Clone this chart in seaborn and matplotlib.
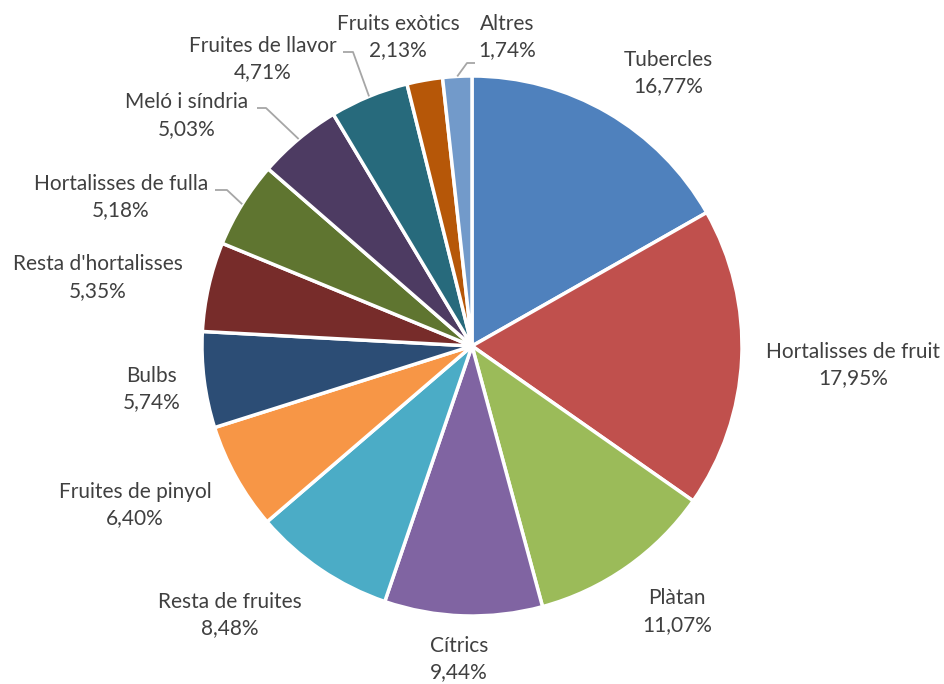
import numpy as np
import matplotlib
matplotlib.use("Agg")
import matplotlib.pyplot as plt
import seaborn as sns

categories = ["Tubercles", "Hortalisses de fruit", "Plàtan", "Cítrics", "Resta de fruites",
              "Fruites de pinyol", "Bulbs", "Resta d'hortalisses", "Hortalisses de fulla",
              "Meló i síndria", "Fruites de llavor", "Fruits exòtics", "Altres"]
values = [16.77, 17.95, 11.07, 9.44, 8.48, 6.40, 5.74, 5.35, 5.18, 5.03, 4.71, 2.13, 1.74]
colors = ["#4F81BD", "#C0504D", "#9BBB59", "#8064A2", "#4BACC6", "#F79646", "#2C4D75",
          "#772C2A", "#5F7530", "#4D3B62", "#276A7C", "#B65708", "#729ACA"]

# label block centres in pixel coords (x, y from top)
label_pos = [(668, 73), (853, 365), (677, 612), (459, 659), (230, 615), (135, 505),
             (152, 389), (98, 278), (121, 197), (187, 116), (263, 59), (398, 37), (507, 37)]
# leader lines: (start_x, start_y, elbow_x) for labels that have one
leaders = {8: (215, 190, 227), 9: (257, 108, 266), 10: (343, 52, 353), 12: (475, 63, 467)}

sns.set_theme(style="white")
plt.rcParams['font.family'] = ['Lato', 'DejaVu Sans']

W, H = 944, 684
fig = plt.figure(figsize=(W / 100, H / 100), dpi=100)
ax = fig.add_axes([0, 0, 1, 1])
cx, cy, R = 472, 346, 270
ax.pie(values, colors=colors, startangle=90, counterclock=False, radius=R,
       center=(cx, H - cy), wedgeprops=dict(edgecolor="white", linewidth=2.5))
ax.set_xlim(0, W)
ax.set_ylim(0, H)
ax.set_aspect("equal")
ax.axis("off")

tc = "#404040"
for i, (name, v) in enumerate(zip(categories, values)):
    x, y = label_pos[i]
    ax.text(x, H - (y - 13.5), name, ha="center", va="center", fontsize=15, color=tc)
    ax.text(x, H - (y + 13.5), f"{v:.2f}%".replace(".", ","), ha="center", va="center",
            fontsize=15, color=tc)

cum = np.cumsum([0] + values)
tot = cum[-1]
for i, (sx, sy, ex) in leaders.items():
    mid = (cum[i] + cum[i + 1]) / 2 / tot * 2 * np.pi
    px = cx + R * np.sin(mid)
    py = cy - R * np.cos(mid)
    ax.plot([sx, ex, px], [H - sy, H - sy, H - py], color="#A6A6A6", lw=1.3,
            solid_capstyle="butt")

fig.savefig("out.png", dpi=100, facecolor="white")
